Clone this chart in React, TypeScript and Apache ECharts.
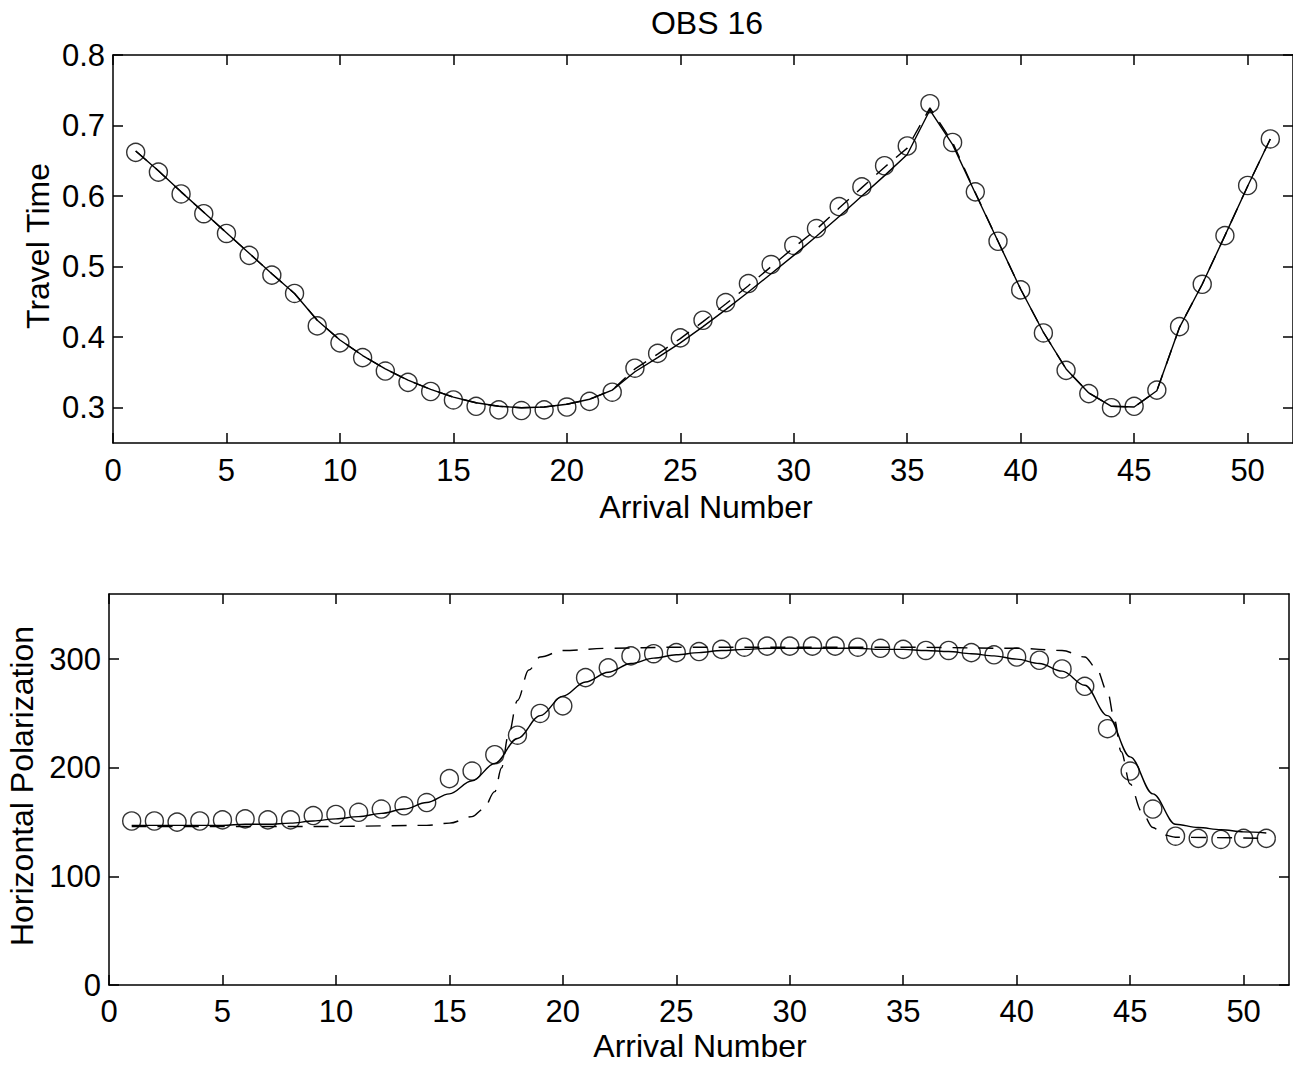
import React, { useEffect, useRef } from "react";
import * as echarts from "echarts";

const FONT = "'Liberation Sans', Arial, sans-serif";

const arrival = [1, 2, 3, 4, 5, 6, 7, 8, 9, 10, 11, 12, 13, 14, 15, 16, 17, 18, 19, 20, 21, 22, 23, 24, 25, 26, 27, 28, 29, 30, 31, 32, 33, 34, 35, 36, 37, 38, 39, 40, 41, 42, 43, 44, 45, 46, 47, 48, 49, 50, 51];

const xTicks = [0, 5, 10, 15, 20, 25, 30, 35, 40, 45, 50];
const travelTicks = [0.3, 0.4, 0.5, 0.6, 0.7, 0.8];
const polTicks = [0, 100, 200, 300];

// Travel time: observed (circles), model fit (solid), second model (dashed)
const travelObs = [0.662, 0.634, 0.603, 0.575, 0.547, 0.516, 0.488, 0.462, 0.416, 0.392, 0.371, 0.352, 0.336, 0.323, 0.311, 0.302, 0.297, 0.296, 0.297, 0.301, 0.309, 0.322, 0.356, 0.377, 0.399, 0.424, 0.449, 0.476, 0.503, 0.53, 0.554, 0.585, 0.613, 0.643, 0.671, 0.731, 0.676, 0.606, 0.536, 0.467, 0.406, 0.353, 0.32, 0.3, 0.302, 0.325, 0.415, 0.475, 0.544, 0.615, 0.681];
const travelSolid = [0.664, 0.636, 0.606, 0.577, 0.548, 0.519, 0.49, 0.462, 0.424, 0.396, 0.374, 0.355, 0.339, 0.326, 0.315, 0.307, 0.302, 0.3, 0.301, 0.305, 0.312, 0.325, 0.351, 0.371, 0.392, 0.415, 0.439, 0.464, 0.49, 0.516, 0.543, 0.571, 0.6, 0.629, 0.659, 0.722, 0.673, 0.604, 0.536, 0.468, 0.407, 0.355, 0.321, 0.302, 0.301, 0.324, 0.414, 0.475, 0.544, 0.614, 0.681];
const travelDashed = [0.664, 0.636, 0.606, 0.577, 0.548, 0.519, 0.49, 0.462, 0.424, 0.396, 0.374, 0.355, 0.339, 0.326, 0.315, 0.307, 0.302, 0.3, 0.301, 0.305, 0.312, 0.325, 0.355, 0.376, 0.398, 0.422, 0.447, 0.473, 0.5, 0.527, 0.553, 0.583, 0.612, 0.641, 0.668, 0.725, 0.676, 0.605, 0.536, 0.468, 0.407, 0.355, 0.321, 0.302, 0.301, 0.324, 0.414, 0.475, 0.544, 0.614, 0.681];

// Horizontal polarization
const polObs = [151, 151, 150, 151, 152, 153, 152, 152, 156, 157, 159, 162, 165, 168, 190, 197, 212, 230, 250, 257, 283, 292, 303, 305, 306, 307, 309, 311, 312, 312, 312, 312, 311, 310, 309, 308, 308, 306, 304, 302, 299, 291, 275, 236, 197, 162, 137, 135, 134, 135, 135];
const polSolid = [147, 147, 147, 147, 147, 148, 148, 149, 151, 153, 155, 158, 162, 168, 176, 188, 204, 227, 248, 266, 279, 288, 296, 301, 304, 306, 308, 309, 310, 310, 310, 310, 310, 309, 309, 308, 307, 305, 303, 300, 296, 289, 276, 248, 210, 176, 148, 145, 143, 141, 140];
const polDashedX = [1, 5, 10, 14, 15, 16, 16.5, 17, 17.3, 17.6, 18, 18.5, 19, 20, 22, 25, 30, 35, 40, 42, 43, 43.5, 44, 44.3, 44.6, 45, 45.5, 46, 46.5, 47, 51];
const polDashed = [146, 146, 146, 147, 149, 155, 162, 178, 200, 230, 262, 290, 302, 308, 310, 311, 311, 311, 310, 308, 302, 292, 270, 245, 215, 185, 160, 145, 138, 136, 135];

const pairs = (xs: number[], ys: number[]) => xs.map((x, i) => [x, ys[i]]);

const black = "#000";
const TICK_FS = 31;
const NAME_FS = 32;

function xAxesFor(gridIndex: number, labelMargin: number) {
  const common = {
    type: "value",
    gridIndex,
    min: 0,
    max: 52,
    splitLine: { show: false },
    axisLine: { show: true, onZero: false, lineStyle: { color: black, width: 1.5 } },
    axisTick: { show: true, inside: true, length: 10, customValues: xTicks, lineStyle: { color: black, width: 1.5 } },
  };
  return [
    {
      ...common,
      position: "bottom",
      axisLabel: { show: true, customValues: xTicks, color: black, fontSize: TICK_FS, fontFamily: FONT, margin: labelMargin },
    },
    { ...common, position: "top", axisLabel: { show: false } },
  ];
}

function yAxesFor(gridIndex: number, min: number, max: number, ticks: number[], fmt: (v: number) => string) {
  const common = {
    type: "value",
    gridIndex,
    min,
    max,
    splitLine: { show: false },
    axisLine: { show: true, onZero: false, lineStyle: { color: black, width: 1.5 } },
    axisTick: { show: true, inside: true, length: 10, customValues: ticks, lineStyle: { color: black, width: 1.5 } },
  };
  return [
    {
      ...common,
      position: "left",
      axisLabel: { show: true, customValues: ticks, color: black, fontSize: TICK_FS, fontFamily: FONT, margin: 8, formatter: fmt },
    },
    { ...common, position: "right", axisLabel: { show: false } },
  ];
}

const circleSeries = (xi: number, yi: number, data: number[][]) => ({
  type: "scatter",
  xAxisIndex: xi,
  yAxisIndex: yi,
  data,
  symbol: "circle",
  symbolSize: 18,
  clip: false,
  itemStyle: { color: "rgba(0,0,0,0)", borderColor: black, borderWidth: 1.4 },
  z: 3,
});

const lineSeries = (xi: number, yi: number, data: number[][], dashed: boolean, smooth: boolean) => ({
  type: "line",
  xAxisIndex: xi,
  yAxisIndex: yi,
  data,
  showSymbol: false,
  symbol: "none",
  smooth: smooth ? 0.35 : false,
  smoothMonotone: "x",
  clip: false,
  lineStyle: { color: black, width: 1.4, type: dashed ? [15, 11] : "solid" },
  z: 2,
});

const option = {
  animation: false,
  backgroundColor: "#fff",
  grid: [
    { left: 113, top: 55, width: 1184, height: 388, containLabel: false },
    { left: 109, top: 594, width: 1180, height: 391, containLabel: false },
  ],
  xAxis: [...xAxesFor(0, 12), ...xAxesFor(1, 11)],
  yAxis: [
    ...yAxesFor(0, 0.25, 0.8, travelTicks, (v: number) => v.toFixed(1)),
    ...yAxesFor(1, 0, 360, polTicks, (v: number) => String(v)),
  ],
  series: [
    lineSeries(0, 0, pairs(arrival, travelDashed), true, false),
    lineSeries(0, 0, pairs(arrival, travelSolid), false, false),
    circleSeries(0, 0, pairs(arrival, travelObs)),
    lineSeries(2, 2, pairs(polDashedX, polDashed), true, true),
    lineSeries(2, 2, pairs(arrival, polSolid), false, true),
    circleSeries(2, 2, pairs(arrival, polObs)),
  ],
  graphic: [
    { type: "text", x: 707, y: 23, style: { text: "OBS 16", fontSize: NAME_FS, fontFamily: FONT, fill: black, align: "center", verticalAlign: "middle" } },
    { type: "text", x: 706, y: 507, style: { text: "Arrival Number", fontSize: NAME_FS, fontFamily: FONT, fill: black, align: "center", verticalAlign: "middle" } },
    { type: "text", x: 700, y: 1046, style: { text: "Arrival Number", fontSize: NAME_FS, fontFamily: FONT, fill: black, align: "center", verticalAlign: "middle" } },
    { type: "text", x: 38, y: 246, rotation: Math.PI / 2, style: { text: "Travel Time", fontSize: NAME_FS, fontFamily: FONT, fill: black, align: "center", verticalAlign: "middle" } },
    { type: "text", x: 22, y: 786, rotation: Math.PI / 2, style: { text: "Horizontal Polarization", fontSize: NAME_FS, fontFamily: FONT, fill: black, align: "center", verticalAlign: "middle" } },
  ],
};

export default function App() {
  const ref = useRef<HTMLDivElement>(null);
  useEffect(() => {
    if (!ref.current) return;
    const chart = echarts.init(ref.current, null, { renderer: "svg" });
    chart.setOption(option as any);
    return () => chart.dispose();
  }, []);
  return <div ref={ref} style={{ position: "absolute", left: 0, top: 0, width: 1293, height: 1068, background: "#fff" }} />;
}
